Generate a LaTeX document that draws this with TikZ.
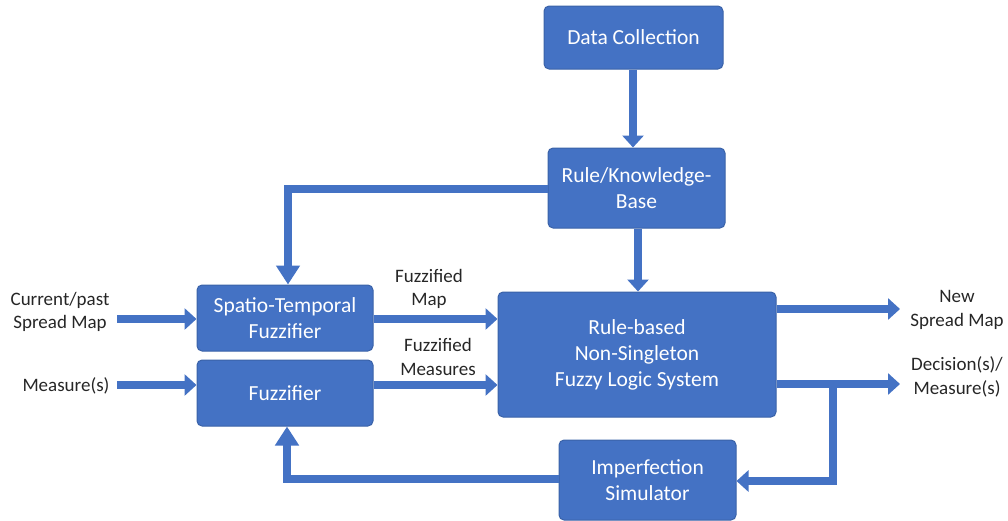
\documentclass[tikz,border=0pt]{standalone}
\usepackage{fontspec}
\setmainfont{Carlito}
\usetikzlibrary{arrows.meta}
\definecolor{boxblue}{HTML}{4472C4}
\definecolor{boxedge}{HTML}{3A62A8}
\definecolor{lbltext}{HTML}{262626}
\begin{document}
\begin{tikzpicture}[x=1pt,y=-1pt,
 box/.style={draw=boxedge, fill=boxblue, rounded corners=5pt, line width=1pt, text=white,
   font=\fontsize{21.5}{26}\selectfont, align=center, inner sep=0pt},
 flow/.style={draw=boxblue, line width=8pt, -{Triangle[width=21pt,length=12pt]}},
 bigflow/.style={flow, -{Triangle[width=23pt,length=19pt]}},
 lbl/.style={font=\fontsize{19}{23.5}\selectfont, align=center, text=lbltext, inner sep=0pt}]
\useasboundingbox (0,0) rectangle (1008,520);
% boxes
\node[box, minimum width=179pt, minimum height=63pt] (DC) at (633.5,37.5) {Data Collection};
\node[box, minimum width=177pt, minimum height=80pt] (RKB) at (636.5,188) {Rule/Knowledge-\\Base};
\node[box, minimum width=176pt, minimum height=66pt] (STF) at (285,318) {Spatio-Temporal\\Fuzzifier};
\node[box, minimum width=176pt, minimum height=66pt] (FZ) at (285,393) {Fuzzifier};
\node[box, minimum width=278pt, minimum height=125pt] (NS) at (637,354.5) {Rule-based\\Non-Singleton\\Fuzzy Logic System};
\node[box, minimum width=177pt, minimum height=80pt] (IS) at (647.5,480) {Imperfection\\Simulator};
% labels
\node[lbl] (Lcur) at (60,312) {Current/past\\Spread Map};
\node[lbl] (Lmeas) at (66,386) {Measure(s)};
\node[lbl] (Lfmap) at (429,289) {Fuzzified\\Map};
\node[lbl] (Lfmeas) at (438,357) {Fuzzified\\Measures};
\node[lbl] (Lnew) at (957,310) {New\\Spread Map};
\node[lbl] (Ldec) at (957,377) {Decision(s)/\\Measure(s)};
% coordinates
\coordinate (a1) at (633,0);
\coordinate (a2) at (638,0);
\coordinate (in1) at (117,319);
\coordinate (in2) at (117,385);
\coordinate (o1) at (900,309);
\coordinate (o2) at (900,384);
\coordinate (tk) at (288,189);
\coordinate (fb) at (287,479);
\coordinate (br) at (833,384);
\coordinate (bb) at (833,481);
% connectors
\draw[flow] (a1 |- DC.south) -- (a1 |- RKB.north);
\draw[flow] (a2 |- RKB.south) -- (a2 |- NS.north);
\draw[bigflow] (tk -| RKB.west) -- (tk) -- (tk |- STF.north);
\draw[flow] (in1) -- (in1 -| STF.west);
\draw[flow] (in2) -- (in2 -| FZ.west);
\draw[flow] (STF.east |- in1) -- (in1 -| NS.west);
\draw[flow] (FZ.east |- in2) -- (in2 -| NS.west);
\draw[flow] (NS.east |- o1) -- (o1);
\draw[flow] (NS.east |- o2) -- (o2);
\draw[flow] (br) -- (bb) -- (bb -| IS.east);
\draw[bigflow] (fb -| IS.west) -- (fb) -- (fb |- FZ.south);
\end{tikzpicture}
\end{document}
